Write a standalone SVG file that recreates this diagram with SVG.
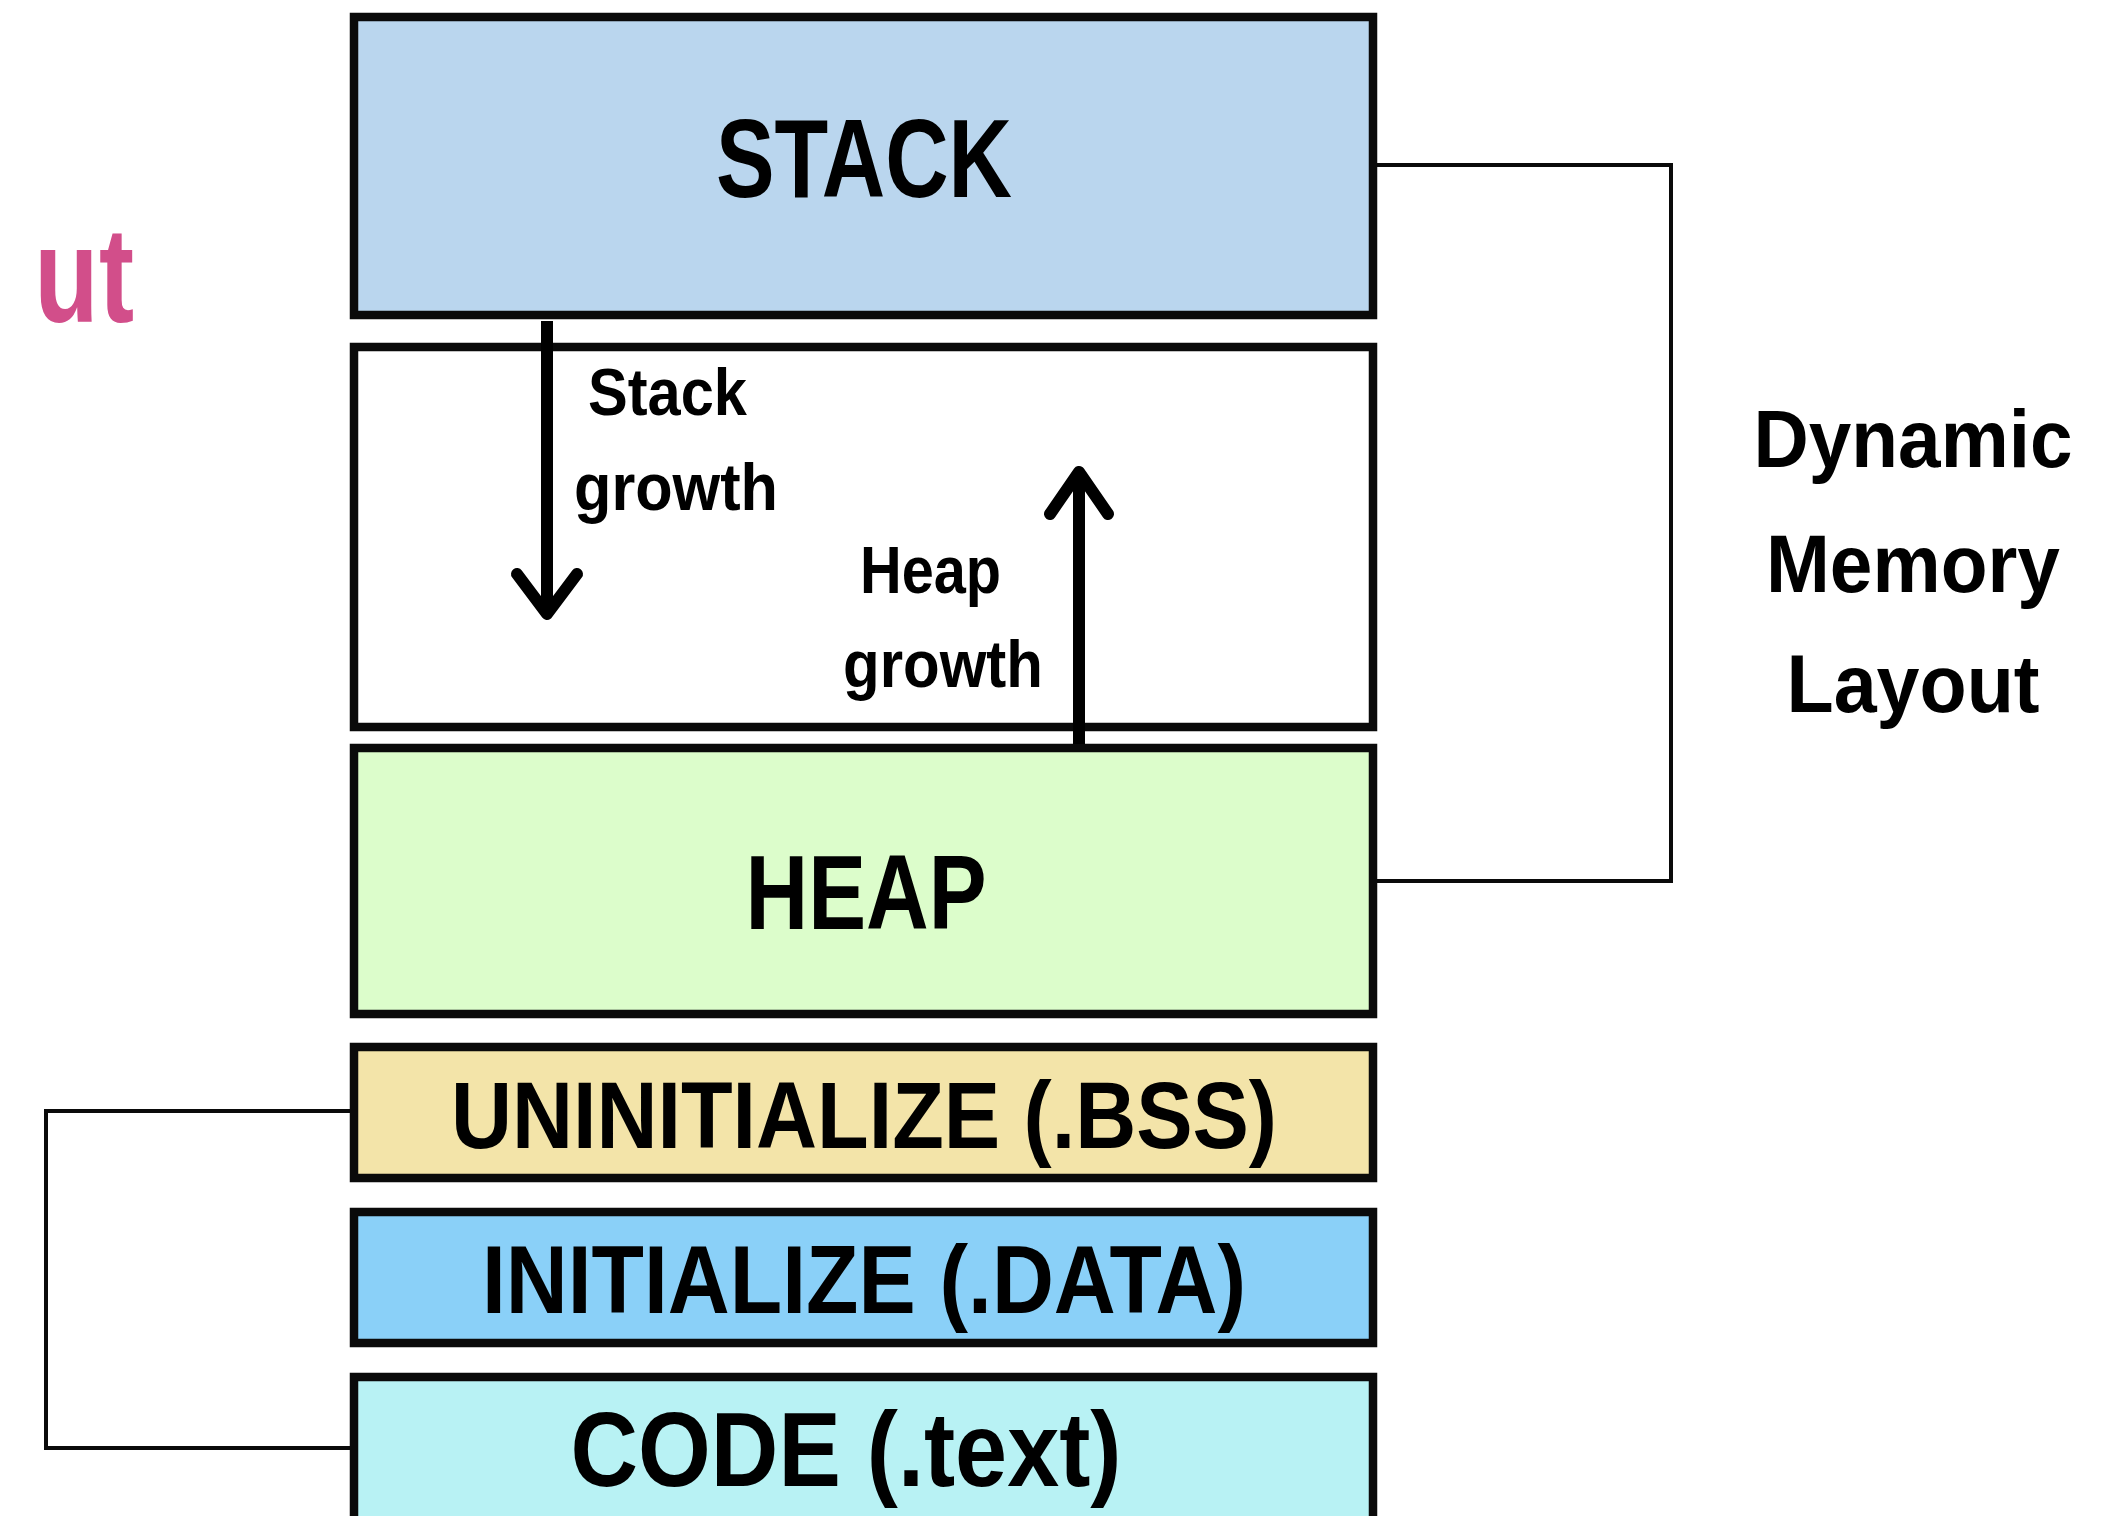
<svg xmlns="http://www.w3.org/2000/svg" width="2111" height="1516" viewBox="0 0 2111 1516">
  <style>
    .box { stroke: #0a0a0a; stroke-width: 8.5; }
    .lbl { font-family: "Liberation Sans", Arial, sans-serif; font-weight: bold; fill: #000; }
    .big { text-anchor: middle; }
    .small { font-size: 66px; }
    .side { font-size: 81px; text-anchor: middle; }
    .conn { fill: none; stroke: #0a0a0a; stroke-width: 4; }
    .arrow { fill: none; stroke: #000; stroke-width: 12; stroke-linecap: round; stroke-linejoin: round; }
  </style>
  <rect x="0" y="0" width="2111" height="1516" fill="#ffffff"/>

  <text class="lbl" transform="scale(0.78,1)" x="44 127" y="322" font-size="135" style="fill:#d24e8a">ut</text>

  <g id="connectors">
    <path class="conn" d="M1377,165 H1671 V881 H1377"/>
    <path class="conn" d="M350,1111 H46 V1448 H350"/>
  </g>

  <g id="stack">
    <rect class="box" x="354" y="17" width="1019" height="298" fill="#bad6ee"/>
    <text class="lbl big" x="864" y="197" font-size="112" textLength="296" lengthAdjust="spacingAndGlyphs">STACK</text>
  </g>

  <g id="free">
    <rect class="box" x="354" y="347" width="1019" height="380" fill="#ffffff"/>
    <text class="lbl small" x="588" y="415" textLength="159" lengthAdjust="spacingAndGlyphs">Stack</text>
    <text class="lbl small" x="574" y="510" textLength="204" lengthAdjust="spacingAndGlyphs">growth</text>
    <text class="lbl small" x="860" y="593" textLength="141" lengthAdjust="spacingAndGlyphs">Heap</text>
    <text class="lbl small" x="843" y="687" textLength="200" lengthAdjust="spacingAndGlyphs">growth</text>
  </g>

  <g id="heap">
    <rect class="box" x="354" y="748" width="1019" height="266" fill="#dcfdcb"/>
    <text class="lbl big" x="866" y="929" font-size="105" textLength="241" lengthAdjust="spacingAndGlyphs">HEAP</text>
  </g>

  <g id="bss">
    <rect class="box" x="354" y="1047" width="1019" height="131" fill="#f3e4a9"/>
    <text class="lbl big" x="864" y="1148" font-size="95" textLength="826" lengthAdjust="spacingAndGlyphs">UNINITIALIZE (.BSS)</text>
  </g>

  <g id="data">
    <rect class="box" x="354" y="1212" width="1019" height="131" fill="#8ad0f8"/>
    <text class="lbl big" x="864" y="1313" font-size="96" textLength="764" lengthAdjust="spacingAndGlyphs">INITIALIZE (.DATA)</text>
  </g>

  <g id="code">
    <rect class="box" x="354" y="1377" width="1019" height="220" fill="#b8f2f4"/>
    <text class="lbl big" x="846" y="1486" font-size="105" textLength="551" lengthAdjust="spacingAndGlyphs">CODE (.text)</text>
  </g>

  <g id="growth-arrows">
    <path class="arrow" d="M547,321 V614" style="stroke-linecap:butt"/>
    <path class="arrow" d="M517,574 L547,614 L577,574"/>
    <path class="arrow" d="M1079,744 V472" style="stroke-linecap:butt"/>
    <path class="arrow" d="M1050,514 L1079,472 L1108,514"/>
  </g>

  <g id="dynamic-label">
    <text class="lbl side" x="1913" y="467" textLength="319" lengthAdjust="spacingAndGlyphs">Dynamic</text>
    <text class="lbl side" x="1913" y="592" textLength="294" lengthAdjust="spacingAndGlyphs">Memory</text>
    <text class="lbl side" x="1913" y="712" textLength="253" lengthAdjust="spacingAndGlyphs">Layout</text>
  </g>
</svg>
